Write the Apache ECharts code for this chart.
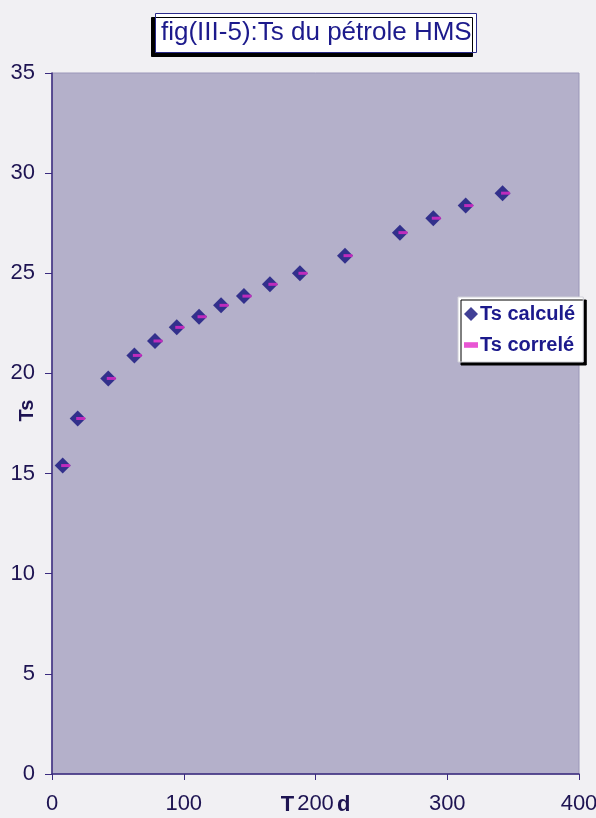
<!DOCTYPE html>
<html><head><meta charset="utf-8">
<script src="https://cdn.jsdelivr.net/npm/echarts@6/dist/echarts.min.js"></script>
<style>html,body{margin:0;padding:0;background:#f1f0f3}#c{width:596px;height:818px}</style>
</head><body><div id="c"></div>
<script>
const titleText = 'fig(III-5):Ts du pétrole HMS';
const xName = 'T       d';
const yName = 'Ts';
const seriesNames = ['Ts calculé', 'Ts correlé'];
const tValues = [8.1, 19.5, 42.7, 62.5, 78.2, 94.7, 111.6, 128.3, 145.7, 165.4, 188.2, 222.4, 264.1, 289.4, 314, 342];
const tsCalcule = [15.4, 17.75, 19.75, 20.9, 21.62, 22.3, 22.83, 23.4, 23.86, 24.45, 25.0, 25.88, 27.03, 27.75, 28.38, 29.0];
const tsCorrele = [15.4, 17.75, 19.75, 20.9, 21.62, 22.3, 22.83, 23.4, 23.86, 24.45, 25.0, 25.88, 27.03, 27.75, 28.38, 29.0];

const chart = echarts.init(document.getElementById('c'), null, {renderer: 'canvas'});
const txt = '#1e1452';
chart.setOption({
  backgroundColor: '#f1f0f3',
  animation: false,
  title: {
    text: titleText, left: 155, top: 13,
    padding: [7, 5, 7, 6],
    backgroundColor: '#ffffff', borderColor: '#2a2a8a', borderWidth: 1,
    shadowColor: '#000000', shadowBlur: 0, shadowOffsetX: -4, shadowOffsetY: 4,
    textStyle: {fontFamily: 'Liberation Sans, Arial', fontSize: 26, fontWeight: 'normal', color: '#1c1a8c'}
  },
  legend: {
    orient: 'vertical', left: 458, top: 297,
    padding: [7, 8, 7, 6], itemGap: 11, itemWidth: 14, itemHeight: 14,
    backgroundColor: '#ffffff', borderColor: '#d0d0d8', borderWidth: 1,
    shadowColor: '#000000', shadowBlur: 0, shadowOffsetX: 3, shadowOffsetY: 3,
    textStyle: {fontFamily: 'Liberation Sans, Arial', fontSize: 20, fontWeight: 'bold', color: '#1c1a8c', padding: [0, 0, 0, -3]},
    data: [
      {name: seriesNames[0], icon: 'diamond'},
      {name: seriesNames[1], icon: 'path://M0,0h10v4h-10z'}
    ]
  },
  grid: {left: 52, right: 17, top: 73, bottom: 44, containLabel: false, outerBoundsMode: 'none', show: true, backgroundColor: '#b4b0ca', borderColor: '#9a96b8', borderWidth: 1},
  xAxis: {
    type: 'value', min: 0, max: 400, interval: 100,
    name: xName, nameLocation: 'middle', nameGap: 20, nameMoveOverlap: false,
    nameTextStyle: {fontFamily: 'Liberation Sans, Arial', fontSize: 22, fontWeight: 'bold', color: txt, verticalAlign: 'top'},
    axisLine: {show: true, lineStyle: {color: '#3a2a7e', width: 1.5}},
    axisTick: {show: true, length: 6, lineStyle: {color: '#3a2a7e'}},
    axisLabel: {fontFamily: 'Liberation Sans, Arial', fontSize: 22, color: txt, margin: 19},
    splitLine: {show: false}
  },
  yAxis: {
    type: 'value', min: 0, max: 35, interval: 5,
    name: yName, nameLocation: 'middle', nameGap: 15, nameMoveOverlap: false,
    nameTextStyle: {fontFamily: 'Liberation Sans, Arial', fontSize: 20, fontWeight: 'bold', color: txt, padding: [0, 0, 0, 26]},
    axisLine: {show: true, lineStyle: {color: '#3a2a7e', width: 1.5}},
    axisTick: {show: true, length: 7, lineStyle: {color: '#3a2a7e'}},
    axisLabel: {fontFamily: 'Liberation Sans, Arial', fontSize: 22, color: txt, margin: 17},
    splitLine: {show: false}
  },
  series: [
    {
      name: seriesNames[0], type: 'scatter', symbol: 'diamond', symbolSize: 16,
      itemStyle: {color: '#12107c'},
      data: tValues.map((t, i) => [t, tsCalcule[i]])
    },
    {
      name: seriesNames[1], type: 'scatter', symbol: 'rect', symbolSize: [9, 3], symbolOffset: [3, 0],
      itemStyle: {color: '#e22ac8'},
      data: tValues.map((t, i) => [t, tsCorrele[i]])
    }
  ]
});
</script></body></html>
